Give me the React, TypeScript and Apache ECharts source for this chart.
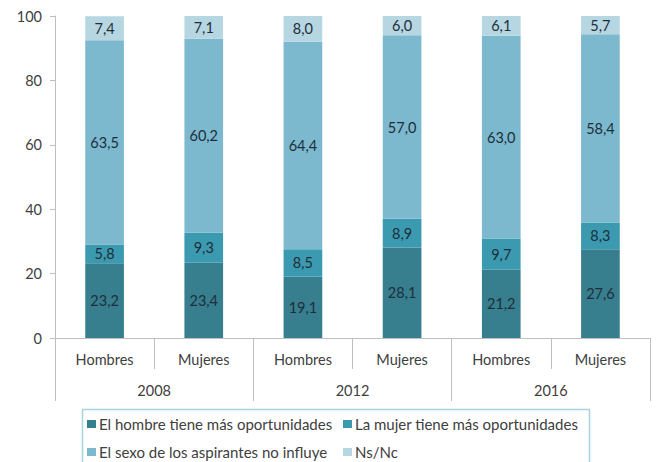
import React, { useEffect, useRef } from "react";
import * as echarts from "echarts";

const categories = ["Hombres", "Mujeres", "Hombres", "Mujeres", "Hombres", "Mujeres"];
const years = ["2008", "2012", "2016"];
const seriesNames = [
  "El hombre tiene más oportunidades",
  "La mujer tiene más oportunidades",
  "El sexo de los aspirantes no influye",
  "Ns/Nc",
];
const hombreMas = [23.2, 23.4, 19.1, 28.1, 21.2, 27.6];
const mujerMas = [5.8, 9.3, 8.5, 8.9, 9.7, 8.3];
const noInfluye = [63.5, 60.2, 64.4, 57.0, 63.0, 58.4];
const nsnc = [7.4, 7.1, 8.0, 6.0, 6.1, 5.7];
const yTicks = { min: 0, max: 100, interval: 20 };

const colors = ["#377E8F", "#3C9AB0", "#7CB9CE", "#B6D6E2"];
const FONT = "Lato";

export default function App() {
  const ref = useRef<HTMLDivElement>(null);
  useEffect(() => {
    document.body.style.margin = "0";
    const chart = echarts.init(ref.current!, null, { renderer: "svg" });
    const values = [hombreMas, mujerMas, noInfluye, nsnc];
    const legendBase = {
      orient: "vertical",
      top: 415,
      itemWidth: 9,
      itemHeight: 8,
      itemGap: 10,
      padding: 0,
      icon: "rect",
      textStyle: { fontFamily: FONT, fontSize: 15, color: "#404040", lineHeight: 18, padding: [0, 0, 0, -2] },
      itemStyle: { borderWidth: 0 },
    };
    chart.setOption({
      animation: false,
      textStyle: { fontFamily: FONT },
      color: colors,
      grid: { left: 55, right: 6, top: 16, bottom: 124, containLabel: false },
      graphic: [
        {
          type: "rect",
          shape: { x: 82.5, y: 409.5, width: 507, height: 70 },
          style: { fill: "none", stroke: "#A8D3DD", lineWidth: 1.5 },
          silent: true,
        },
      ],
      legend: [
        { ...legendBase, left: 87, data: [seriesNames[0], seriesNames[2]] },
        { ...legendBase, left: 343, data: [seriesNames[1], seriesNames[3]] },
      ],
      xAxis: [
        {
          type: "category",
          data: categories,
          position: "bottom",
          axisLine: { show: true, lineStyle: { color: "#BFBFBF", width: 1 } },
          axisTick: { show: true, interval: 0, length: 31, lineStyle: { color: "#BFBFBF" } },
          axisLabel: { interval: 0, margin: 14, fontSize: 14.5, color: "#404040", fontFamily: FONT },
        },
        {
          type: "category",
          data: years,
          position: "bottom",
          axisLine: { show: false },
          axisTick: { show: true, interval: 0, length: 63, lineStyle: { color: "#BFBFBF" } },
          axisLabel: { interval: 0, margin: 45, fontSize: 14.5, color: "#404040", fontFamily: FONT },
        },
      ],
      yAxis: {
        type: "value",
        min: yTicks.min,
        max: yTicks.max,
        interval: yTicks.interval,
        splitLine: { show: false },
        axisLine: { show: true, lineStyle: { color: "#BFBFBF" } },
        axisTick: { show: true, length: 5, lineStyle: { color: "#BFBFBF" } },
        axisLabel: { margin: 13, fontSize: 14.5, color: "#404040", fontFamily: FONT },
      },
      series: seriesNames.map((name, i) => ({
        name,
        type: "bar",
        stack: "total",
        xAxisIndex: 0,
        barWidth: "39%",
        data: values[i],
        itemStyle: { color: colors[i] },
        label: {
          show: true,
          position: "inside",
          fontSize: 14.5,
          fontFamily: FONT,
          color: "#1E2E3A",
          formatter: (p: any) => Number(p.value).toFixed(1).replace(".", ","),
        },
      })),
    });
    return () => chart.dispose();
  }, []);
  return <div ref={ref} style={{ width: 656, height: 462 }} />;
}
